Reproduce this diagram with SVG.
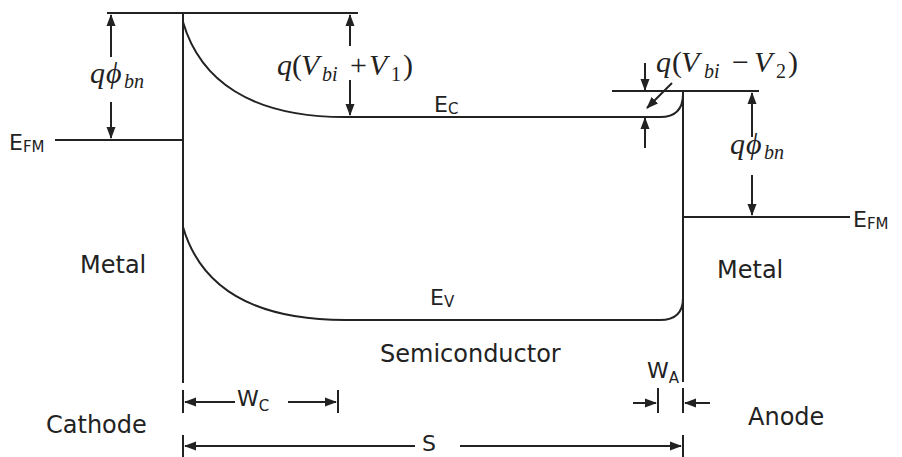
<svg xmlns="http://www.w3.org/2000/svg" width="902" height="457" viewBox="0 0 902 457">
<defs>
<marker id="ah" viewBox="0 0 12 10" refX="11" refY="5" markerWidth="12" markerHeight="10" markerUnits="userSpaceOnUse" orient="auto">
<path d="M0,0.5 L12,5 L0,9.5 Z" fill="#222"/>
</marker>
<style>
.ln{stroke:#222;stroke-width:2;fill:none}
.ar{stroke:#222;stroke-width:2;fill:none;marker-end:url(#ah)}
.lb{font-family:"DejaVu Sans",sans-serif;font-size:24px;fill:#222}
.e{font-family:"DejaVu Sans",sans-serif;font-size:22px;fill:#222}
.s{font-size:15px}
.m{font-family:"Liberation Serif",serif;font-size:30px;fill:#222}
.i{font-style:italic}
.ms{font-size:20px}
</style>
</defs>
<rect width="902" height="457" fill="#fff"/>
<g id="bands">
<line class="ln" x1="107" y1="13" x2="358" y2="13"/>
<line class="ln" x1="183" y1="13" x2="183" y2="383"/>
<line class="ln" x1="55" y1="140" x2="183" y2="140"/>
<path class="ln" d="M183,22 C200,80 250,117 345,117 L660,117 C675,117 683,110 683,94"/>
<line class="ln" x1="612" y1="91" x2="759" y2="91"/>
<line class="ln" x1="683" y1="91" x2="683" y2="382"/>
<line class="ln" x1="683" y1="217" x2="850" y2="217"/>
<path class="ln" d="M183,227 C200,285 250,320 345,320 L660,320 C675,320 683,313 683,298"/>
</g>
<g id="connectors">
<line class="ar" x1="111" y1="57" x2="111" y2="15"/>
<line class="ar" x1="111" y1="102" x2="111" y2="138"/>
<line class="ar" x1="350" y1="46" x2="350" y2="15"/>
<line class="ar" x1="350" y1="80" x2="350" y2="115"/>
<line class="ar" x1="645" y1="63" x2="645" y2="90"/>
<line class="ar" x1="645" y1="148" x2="645" y2="118"/>
<line class="ar" x1="672" y1="83" x2="647" y2="108"/>
<line class="ar" x1="752" y1="137" x2="752" y2="93"/>
<line class="ar" x1="752" y1="175" x2="752" y2="215"/>
<line class="ln" x1="183" y1="390" x2="183" y2="413"/>
<line class="ln" x1="338" y1="390" x2="338" y2="413"/>
<line class="ar" x1="235" y1="402" x2="185" y2="402"/>
<line class="ar" x1="288" y1="402" x2="336" y2="402"/>
<line class="ln" x1="658" y1="388" x2="658" y2="413"/>
<line class="ln" x1="683" y1="388" x2="683" y2="413"/>
<line class="ar" x1="633" y1="403" x2="656" y2="403"/>
<line class="ar" x1="710" y1="403" x2="685" y2="403"/>
<line class="ln" x1="183" y1="435" x2="183" y2="457"/>
<line class="ln" x1="683" y1="435" x2="683" y2="457"/>
<line class="ar" x1="415" y1="446" x2="185" y2="446"/>
<line class="ar" x1="460" y1="446" x2="681" y2="446"/>
</g>
<g id="labels">
<text class="m"><tspan x="90" y="83" class="i">q</tspan><tspan x="106" class="i">ϕ</tspan><tspan x="124" y="88" class="i ms">bn</tspan></text>
<text class="m"><tspan x="730" y="154" class="i">q</tspan><tspan x="746" class="i">ϕ</tspan><tspan x="764" y="159" class="i ms">bn</tspan></text>
<text class="m"><tspan x="277" y="75" class="i">q</tspan><tspan x="292">(</tspan><tspan x="301" class="i">V</tspan><tspan x="322" y="81" class="i ms">bi</tspan><tspan x="350" y="75">+</tspan><tspan x="369" class="i">V</tspan><tspan x="391" y="81" class="ms">1</tspan><tspan x="403" y="75">)</tspan></text>
<text class="m"><tspan x="656" y="72" class="i">q</tspan><tspan x="672">(</tspan><tspan x="681" class="i">V</tspan><tspan x="704" y="78" class="i ms">bi</tspan><tspan x="732" y="72">−</tspan><tspan x="754" class="i">V</tspan><tspan x="776" y="78" class="ms">2</tspan><tspan x="788" y="72">)</tspan></text>
<text class="e" x="9" y="150">E<tspan class="s" y="152">FM</tspan></text>
<text class="e" x="853" y="227">E<tspan class="s" y="229">FM</tspan></text>
<text class="e" x="434" y="112">E<tspan class="s" y="114">C</tspan></text>
<text class="e" x="430" y="305">E<tspan class="s" y="307">V</tspan></text>
<text class="e" x="237" y="406">W<tspan class="s" y="411">C</tspan></text>
<text class="e" x="647" y="378">W<tspan class="s" y="383">A</tspan></text>
<text class="e" x="422" y="451" font-size="20">S</text>
<text class="lb" x="80" y="273">Metal</text>
<text class="lb" x="717" y="278">Metal</text>
<text class="lb" x="380" y="362">Semiconductor</text>
<text class="lb" x="46" y="433">Cathode</text>
<text class="lb" x="748" y="425">Anode</text>
</g>
</svg>
